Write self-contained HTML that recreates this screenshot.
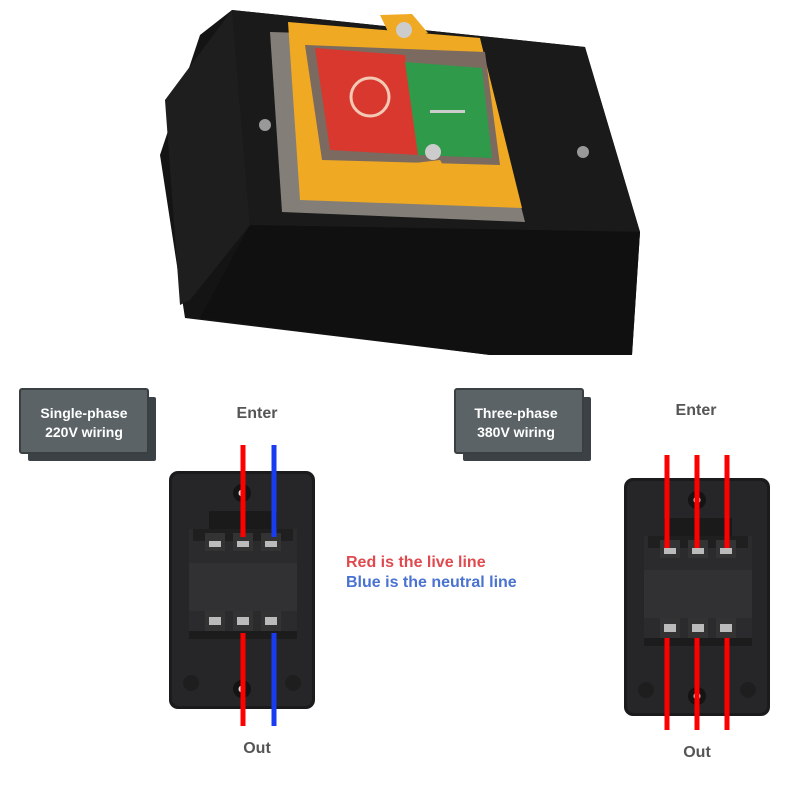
<!DOCTYPE html>
<html><head><meta charset="utf-8"><style>
body{margin:0;background:#fff;width:800px;height:800px;overflow:hidden;font-family:"Liberation Sans",sans-serif}
</style></head><body>
<svg width="800" height="800" viewBox="0 0 800 800" xmlns="http://www.w3.org/2000/svg">
<defs>
<g id="sw">
 <rect x="0" y="0" width="146" height="238" rx="9" fill="#1b1b1d"/>
 <rect x="3" y="3" width="140" height="232" rx="7" fill="#262628"/>
 <circle cx="73" cy="22" r="9" fill="#141414"/><circle cx="73" cy="22" r="3.5" fill="#ddd"/>
 <circle cx="73" cy="218" r="9" fill="#141414"/><circle cx="73" cy="218" r="3.5" fill="#ddd"/>
 <circle cx="22" cy="212" r="8" fill="#1e1e1e"/><circle cx="124" cy="212" r="8" fill="#1e1e1e"/>
 <rect x="40" y="40" width="68" height="24" fill="#1a1a1a"/>
 <rect x="20" y="58" width="108" height="110" fill="#2b2b2d"/>
 <rect x="24" y="58" width="100" height="12" fill="#1f1f1f"/>
 <rect x="36" y="62" width="20" height="18" fill="#333"/><rect x="64" y="62" width="20" height="18" fill="#333"/><rect x="92" y="62" width="20" height="18" fill="#333"/>
 <rect x="40" y="70" width="12" height="6" fill="#bbb"/><rect x="68" y="70" width="12" height="6" fill="#bbb"/><rect x="96" y="70" width="12" height="6" fill="#bbb"/>
 <rect x="20" y="92" width="108" height="48" fill="#313133"/>
 <rect x="36" y="140" width="20" height="22" fill="#333"/><rect x="64" y="140" width="20" height="22" fill="#333"/><rect x="92" y="140" width="20" height="22" fill="#333"/>
 <rect x="40" y="146" width="12" height="8" fill="#bbb"/><rect x="68" y="146" width="12" height="8" fill="#bbb"/><rect x="96" y="146" width="12" height="8" fill="#bbb"/>
 <rect x="20" y="160" width="108" height="8" fill="#1c1c1c"/>
</g>
</defs>
<!-- product -->
<polygon points="232,10 585,47 640,232 632,355 490,355 185,318 160,155 200,35" fill="#141414"/>
<polygon points="165,100 232,10 250,225 190,300 180,305" fill="#1e1e1e"/>
<polygon points="232,10 585,47 640,232 250,225" fill="#1a1a1a"/>
<polygon points="250,225 640,232 632,355 490,355 200,318" fill="#101010"/>
<polygon points="270,32 478,38 525,222 282,212" fill="#c9c3b8" opacity=".6"/>
<polygon points="288,22 480,38 522,208 300,200" fill="#f0a922"/>
<polygon points="380,15 412,14 428,33 392,40" fill="#f0a922"/>
<circle cx="404" cy="30" r="8" fill="#ccc"/>
<polygon points="305,45 485,52 500,165 322,160" fill="#7a6a60"/>
<polygon points="315,48 405,55 418,155 330,150" fill="#d9382e"/>
<polygon points="405,62 482,68 492,158 418,155" fill="#2f9a4a"/>
<circle cx="370" cy="97" r="19" fill="none" stroke="#f3c9b5" stroke-width="3"/>
<rect x="430" y="110" width="35" height="3" fill="#ccc"/>
<polygon points="398,165 440,160 455,185 410,195" fill="#f0a922"/>
<circle cx="433" cy="152" r="8" fill="#ccc"/>
<circle cx="265" cy="125" r="6" fill="#999"/><circle cx="583" cy="152" r="6" fill="#999"/>
<!-- labels -->
<rect x="28" y="397" width="128" height="64" rx="2" fill="#3b4144"/>
<rect x="20" y="389" width="128" height="64" rx="2" fill="#5b6367" stroke="#3a3f42" stroke-width="2"/>
<text x="84" y="418" text-anchor="middle" font-weight="bold" font-size="14" fill="#fff">Single-phase</text>
<text x="84" y="437" text-anchor="middle" font-weight="bold" font-size="14" fill="#fff">220V wiring</text>
<rect x="463" y="397" width="128" height="64" rx="2" fill="#3b4144"/>
<rect x="455" y="389" width="128" height="64" rx="2" fill="#5b6367" stroke="#3a3f42" stroke-width="2"/>
<text x="516" y="418" text-anchor="middle" font-weight="bold" font-size="14" fill="#fff">Three-phase</text>
<text x="516" y="437" text-anchor="middle" font-weight="bold" font-size="14" fill="#fff">380V wiring</text>
<text x="257" y="418" text-anchor="middle" font-weight="bold" font-size="16" fill="#555">Enter</text>
<text x="257" y="753" text-anchor="middle" font-weight="bold" font-size="16" fill="#555">Out</text>
<text x="696" y="415" text-anchor="middle" font-weight="bold" font-size="16" fill="#555">Enter</text>
<text x="697" y="757" text-anchor="middle" font-weight="bold" font-size="16" fill="#555">Out</text>
<text x="346" y="567" font-weight="bold" font-size="16" fill="#e04a4f">Red is the live line</text>
<text x="346" y="587" font-weight="bold" font-size="16" fill="#4a72d0">Blue is the neutral line</text>
<!-- switches -->
<use href="#sw" x="169" y="471"/>
<use href="#sw" x="624" y="478"/>
<g stroke-width="5">
<line x1="243" y1="445" x2="243" y2="537" stroke="#f00"/>
<line x1="274" y1="445" x2="274" y2="537" stroke="#1a3cf0"/>
<line x1="243" y1="633" x2="243" y2="726" stroke="#f00"/>
<line x1="274" y1="633" x2="274" y2="726" stroke="#1a3cf0"/>
<line x1="667" y1="455" x2="667" y2="548" stroke="#f00"/>
<line x1="697" y1="455" x2="697" y2="548" stroke="#f00"/>
<line x1="727" y1="455" x2="727" y2="548" stroke="#f00"/>
<line x1="667" y1="638" x2="667" y2="730" stroke="#f00"/>
<line x1="697" y1="638" x2="697" y2="730" stroke="#f00"/>
<line x1="727" y1="638" x2="727" y2="730" stroke="#f00"/>
</g>
</svg>
</body></html>
